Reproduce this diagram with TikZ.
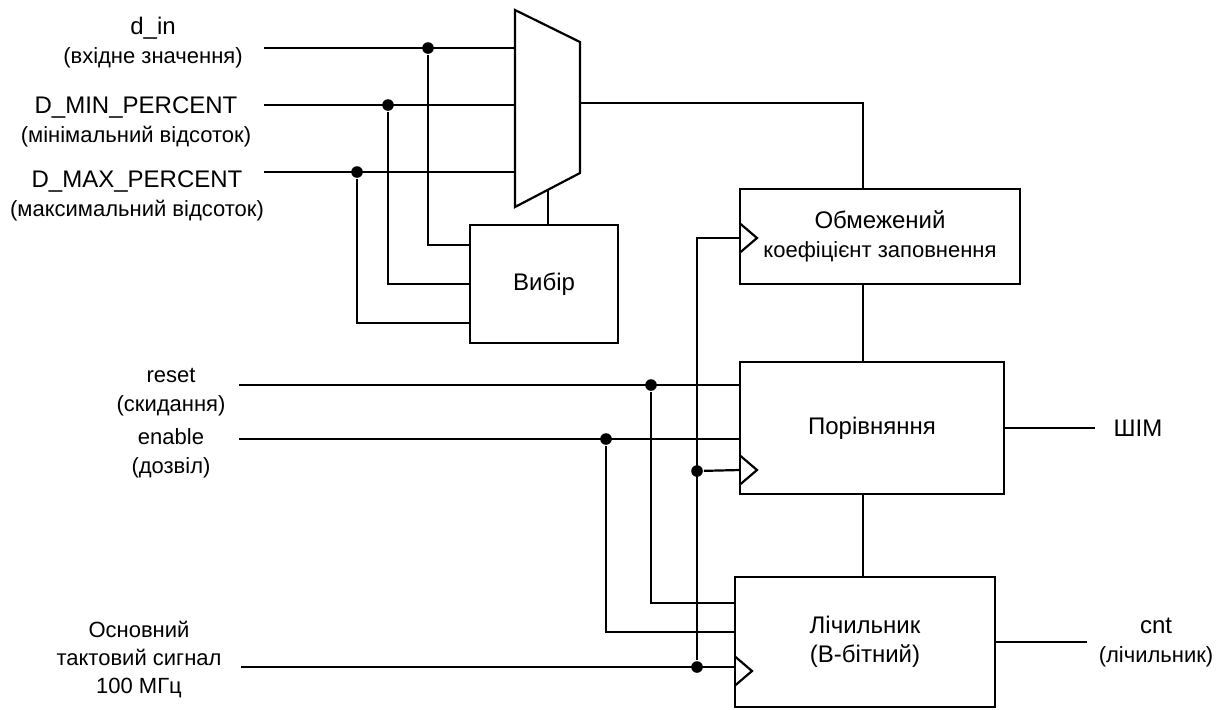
\documentclass[tikz,border=0pt]{standalone}
\usepackage{fontspec}
\setmainfont{Liberation Sans}
\usepackage{tikz}
\newcommand{\sigbig}{\fontsize{12pt}{14.5pt}\selectfont}

\begin{document}
\begin{tikzpicture}[
x=0.5pt,
y=-0.5pt,
line width=1.1pt,
every node/.style={font=\fontsize{11pt}{14.5pt}\selectfont},
block/.style={rectangle,draw,fill=white,align=center,inner sep=0pt,outer sep=0pt},
sig/.style={align=center,inner sep=0pt},
dot/.style={circle,fill,inner sep=0pt,minimum size=5.8pt}
]
\useasboundingbox (0,0) rectangle (1224,709);

\node[block,minimum width=74pt,minimum height=59pt,font=\sigbig] (vybir) at (544,284) {Вибір};
\node[block,minimum width=140pt,minimum height=47.5pt] (obmezh) at (880,236.5) {{\sigbig Обмежений}\\коефіцієнт заповнення};
\node[block,minimum width=132pt,minimum height=66pt,font=\sigbig] (porivn) at (872,428) {Порівняння};
\node[block,minimum width=130pt,minimum height=65pt,font=\sigbig] (lich) at (865,642) {Лічильник\\(B-бітний)};

\node[sig] (din) at (153,42.5) {{\sigbig d\_in}\\(вхідне значення)};
\node[sig] (dmin) at (136,122) {{\sigbig D\_MIN\_PERCENT}\\(мінімальний відсоток)};
\node[sig] (dmax) at (137,196) {{\sigbig D\_MAX\_PERCENT}\\(максимальний відсоток)};
\node[sig] (rst) at (171,392) {reset\\(скидання)};
\node[sig] (en) at (171,453.5) {enable\\(дозвіл)};
\node[sig,font=\fontsize{11pt}{14pt}\selectfont] (clk) at (139,660) {Основний\\тактовий сигнал\\100 МГц};
\node[sig,font=\sigbig] (pwm) at (1138,428) {ШІМ};
\node[sig] (cnt) at (1156,642) {{\sigbig cnt}\\(лічильник)};

\node[dot] (dindot) at (428,48) {};
\node[dot] (mindot) at (388,105) {};
\node[dot] (maxdot) at (357,172) {};
\node[dot] (rstdot) at (651,385) {};
\node[dot] (endot) at (606,439) {};
\node[dot] (clkdot1) at (697,471) {};
\node[dot] (clkdot2) at (697,667) {};

\coordinate (muxtl) at (515,10);
\coordinate (muxtr) at (580,42);
\coordinate (muxbr) at (580,173);
\coordinate (muxbl) at (515,207);
\coordinate (muxa) at (515,48);
\coordinate (muxb) at (515,105);
\coordinate (muxc) at (515,172);
\coordinate (muxo) at (580,103);
\coordinate (muxs) at (548,190);
\coordinate (vbus) at (862.6,0);

\coordinate (dinin) at (264,48);
\coordinate (dminin) at (264,105);
\coordinate (dmaxin) at (264,172);
\coordinate (rstin) at (239,385);
\coordinate (enin) at (239,439);
\coordinate (clkin) at (241,667);

\coordinate (obclk) at (740,238);
\coordinate (poclk) at (740,470);
\coordinate (liclk) at (735,671);

\draw (muxtl) -- (muxtr) -- (muxbr) -- (muxbl) -- cycle;
\draw (obclk) ++(0,-14.5) -- ++(17,14.5) -- ++(-17,14.5);
\draw (poclk) ++(0,-14.5) -- ++(17,14.5) -- ++(-17,14.5);
\draw (liclk) ++(0,-14.5) -- ++(17,14.5) -- ++(-17,14.5);

\draw (dinin) -- (muxa);
\draw (dminin) -- (muxb);
\draw (dmaxin) -- (muxc);
\draw (dindot) |- ([yshift=19.5pt]vybir.west);
\draw (mindot) |- (vybir.west);
\draw (maxdot) |- ([yshift=-19.5pt]vybir.west);
\draw (muxs) -- (muxs |- vybir.north);
\draw (muxo) -| (vbus |- obmezh.north);
\draw (vbus |- obmezh.south) -- (vbus |- porivn.north);
\draw (vbus |- porivn.south) -- (vbus |- lich.north);

\draw (rstin) -- (rstin -| porivn.west);
\draw (enin) -- (enin -| porivn.west);
\draw (rstdot) |- ([yshift=19.35pt]lich.west);
\draw (endot) |- ([yshift=4.85pt]lich.west);
\draw (clkin) -- (clkin -| lich.west);
\draw (clkdot2) |- (obclk);
\draw (clkdot1) -- (poclk);

\draw (porivn.east) -- ([xshift=-9pt]pwm.west);
\draw (lich.east) -- ([xshift=-5.5pt]cnt.west);
\end{tikzpicture}
\end{document}
